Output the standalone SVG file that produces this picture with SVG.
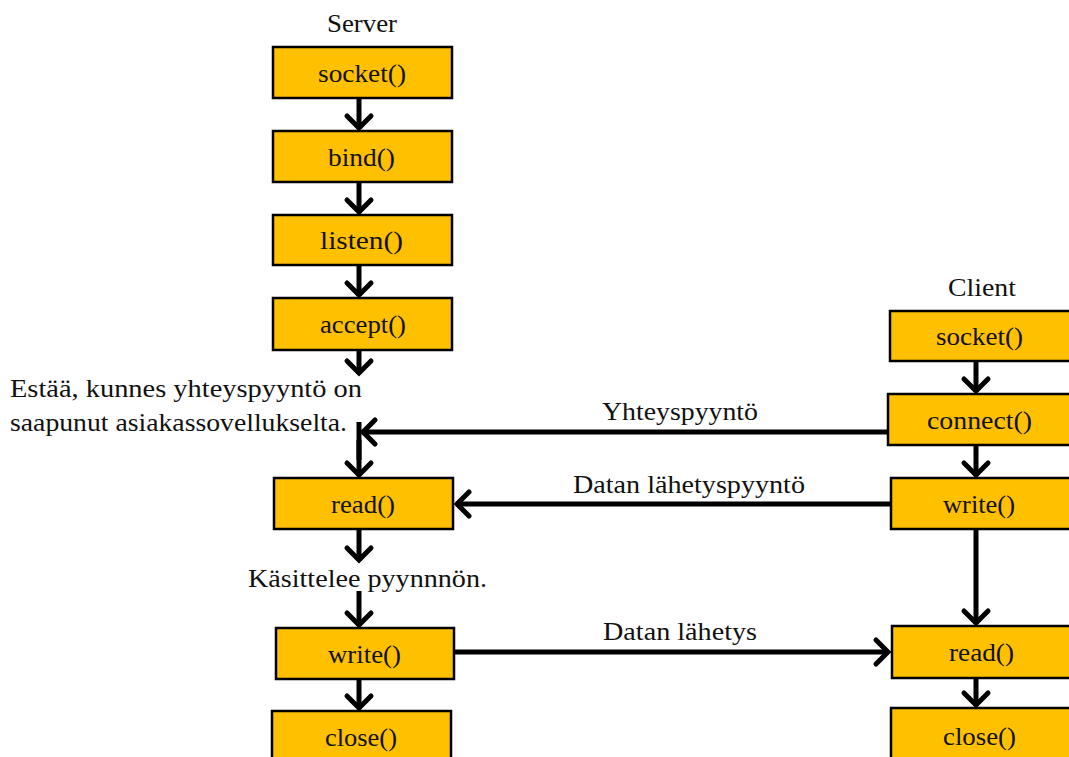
<svg xmlns="http://www.w3.org/2000/svg" width="1069" height="757" viewBox="0 0 1069 757">
  <style>
    .box { fill: #FFC000; stroke: #000; stroke-width: 2.5; }
    .lbl { font-family: "Liberation Serif", "Times New Roman", serif; font-size: 25px; fill: #111; }
    .edge { stroke: #000; stroke-width: 5; fill: none; marker-end: url(#chev); }
    .plain { stroke: #000; stroke-width: 5; fill: none; }
  </style>
  <defs>
    <marker id="chev" markerUnits="userSpaceOnUse" viewBox="-16 -16 20 32" refX="1" refY="0" markerWidth="20" markerHeight="32" orient="auto">
      <path d="M-12,-12 L0,0 L-12,12" stroke="#000" stroke-width="5" fill="none" stroke-linecap="round" stroke-linejoin="miter"/>
    </marker>
  </defs>
  <rect width="1069" height="757" fill="#fff"/>

  <!-- column headings -->
  <text class="lbl" x="327" y="32" textLength="70" lengthAdjust="spacingAndGlyphs">Server</text>
  <text class="lbl" x="948" y="296" textLength="68" lengthAdjust="spacingAndGlyphs">Client</text>

  <!-- server side -->
  <g id="s-socket"><rect class="box" x="273" y="47" width="179" height="51"/><text class="lbl" x="318" y="82" textLength="88" lengthAdjust="spacingAndGlyphs">socket()</text></g>
  <g id="s-bind"><rect class="box" x="273" y="131" width="179" height="51"/><text class="lbl" x="328" y="166" textLength="67" lengthAdjust="spacingAndGlyphs">bind()</text></g>
  <g id="s-listen"><rect class="box" x="273" y="215" width="179" height="50"/><text class="lbl" x="320" y="249" textLength="83" lengthAdjust="spacingAndGlyphs">listen()</text></g>
  <g id="s-accept"><rect class="box" x="273" y="298" width="179" height="52"/><text class="lbl" x="320" y="333" textLength="86" lengthAdjust="spacingAndGlyphs">accept()</text></g>
  <g id="s-read"><rect class="box" x="274" y="478" width="179" height="51"/><text class="lbl" x="331" y="513" textLength="64" lengthAdjust="spacingAndGlyphs">read()</text></g>
  <g id="s-write"><rect class="box" x="276" y="628" width="178" height="51"/><text class="lbl" x="328" y="663" textLength="73" lengthAdjust="spacingAndGlyphs">write()</text></g>
  <g id="s-close"><rect class="box" x="272" y="711" width="179" height="52"/><text class="lbl" x="325" y="746" textLength="72" lengthAdjust="spacingAndGlyphs">close()</text></g>

  <!-- client side -->
  <g id="c-socket"><rect class="box" x="890" y="311" width="182" height="50"/><text class="lbl" x="936" y="345" textLength="87" lengthAdjust="spacingAndGlyphs">socket()</text></g>
  <g id="c-connect"><rect class="box" x="888" y="394" width="184" height="51"/><text class="lbl" x="927" y="429" textLength="105" lengthAdjust="spacingAndGlyphs">connect()</text></g>
  <g id="c-write"><rect class="box" x="891" y="478" width="181" height="51"/><text class="lbl" x="943" y="513" textLength="72" lengthAdjust="spacingAndGlyphs">write()</text></g>
  <g id="c-read"><rect class="box" x="892" y="626" width="180" height="52"/><text class="lbl" x="949" y="661" textLength="65" lengthAdjust="spacingAndGlyphs">read()</text></g>
  <g id="c-close"><rect class="box" x="891" y="708" width="181" height="55"/><text class="lbl" x="943" y="745" textLength="73" lengthAdjust="spacingAndGlyphs">close()</text></g>

  <!-- notes -->
  <g id="notes">
    <text class="lbl" x="10" y="397" textLength="352" lengthAdjust="spacingAndGlyphs">Estää, kunnes yhteyspyyntö on</text>
    <text class="lbl" x="10" y="431" textLength="337" lengthAdjust="spacingAndGlyphs">saapunut asiakassovellukselta.</text>
    <text class="lbl" x="248" y="587" textLength="239" lengthAdjust="spacingAndGlyphs">Käsittelee pyynnnön.</text>
  </g>

  <!-- connectors -->
  <g id="connectors">
    <line class="edge" x1="359" y1="98" x2="359" y2="129"/>
    <line class="edge" x1="359" y1="182" x2="359" y2="213"/>
    <line class="edge" x1="359" y1="265" x2="359" y2="296"/>
    <line class="edge" x1="359" y1="350" x2="359" y2="374"/>
    <line class="plain" x1="359" y1="422" x2="359" y2="460"/>
    <line class="edge" x1="359" y1="440" x2="359" y2="476"/>
    <line class="edge" x1="359" y1="529" x2="359" y2="561"/>
    <line class="edge" x1="359" y1="591" x2="359" y2="626"/>
    <line class="edge" x1="359" y1="679" x2="359" y2="709"/>

    <line class="edge" x1="976" y1="361" x2="976" y2="392"/>
    <line class="edge" x1="976" y1="445" x2="976" y2="476"/>
    <line class="edge" x1="976" y1="529" x2="976" y2="624"/>
    <line class="edge" x1="976" y1="678" x2="976" y2="706"/>

    <line class="edge" x1="888" y1="432" x2="362" y2="432"/>
    <text class="lbl" x="602" y="420" textLength="156" lengthAdjust="spacingAndGlyphs">Yhteyspyyntö</text>
    <line class="edge" x1="891" y1="504" x2="456" y2="504"/>
    <text class="lbl" x="573" y="493" textLength="232" lengthAdjust="spacingAndGlyphs">Datan lähetyspyyntö</text>
    <line class="edge" x1="454" y1="652" x2="889" y2="652"/>
    <text class="lbl" x="603" y="640" textLength="154" lengthAdjust="spacingAndGlyphs">Datan lähetys</text>
  </g>
</svg>
